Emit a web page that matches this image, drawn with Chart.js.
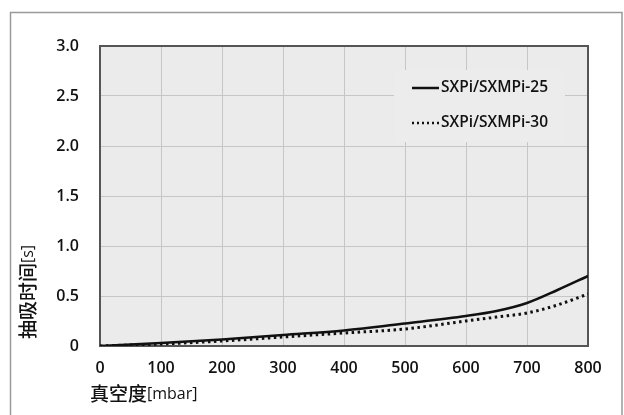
<!DOCTYPE html>
<html>
<head>
<meta charset="utf-8">
<script src="https://cdn.jsdelivr.net/npm/chart.js@4"></script>
<style>
  html, body { margin: 0; padding: 0; background: #fff; }
  #wrap { width: 624px; height: 415px; position: relative; }
</style>
</head>
<body>
<div id="wrap"><canvas id="chart" width="624" height="415"></canvas></div>
<script>
// valeurs
const vide = [0, 100, 200, 300, 400, 500, 600, 650, 700, 750, 800];
const temps25 = [0, 0.03, 0.065, 0.11, 0.155, 0.225, 0.30, 0.35, 0.43, 0.56, 0.70];
const temps30 = [0, 0.02, 0.05, 0.09, 0.13, 0.17, 0.25, 0.29, 0.33, 0.41, 0.52];
const nomsSeries = ['SXPi/SXMPi-25', 'SXPi/SXMPi-30'];
const titreX = ['真空度', '[mbar]'];
const titreY = ['抽吸时间', '[s]'];

const narrow = '"Open Sans", sans-serif';
const cjk = '"Noto Sans CJK SC", sans-serif';

// fond, cadre, titres et légende
const decor = {
  id: 'decor',
  beforeDraw(chart) {
    const { ctx, chartArea: a } = chart;
    ctx.save();
    ctx.fillStyle = '#fff';
    ctx.fillRect(0, 0, chart.width, chart.height);
    ctx.strokeStyle = '#9a9a9a';
    ctx.lineWidth = 1.5;
    ctx.beginPath();
    ctx.moveTo(10.5, 420);
    ctx.lineTo(10.5, 12.5);
    ctx.lineTo(622, 12.5);
    ctx.lineTo(622, 420);
    ctx.stroke();
    ctx.fillStyle = '#ebebeb';
    ctx.fillRect(a.left, a.top, a.right - a.left, a.bottom - a.top);
    ctx.restore();
  },
  beforeDatasetsDraw(chart) {
    const { ctx, chartArea: a } = chart;
    ctx.save();
    // boîte de légende (cache la grille)
    ctx.fillStyle = '#ececec';
    ctx.fillRect(394, 70, 171, 72);
    ctx.strokeStyle = '#555';
    ctx.lineWidth = 2;
    ctx.strokeRect(a.left, a.top, a.right - a.left, a.bottom - a.top);
    ctx.restore();
  },
  afterDraw(chart) {
    const { ctx } = chart;
    ctx.save();
    ctx.fillStyle = '#111';
    ctx.textBaseline = 'middle';
    // légende
    ctx.strokeStyle = '#111';
    ctx.lineWidth = 2.5;
    ctx.beginPath();
    ctx.moveTo(412, 88); ctx.lineTo(439, 88);
    ctx.stroke();
    ctx.lineWidth = 2.5;
    ctx.setLineDash([2, 3]);
    ctx.beginPath();
    ctx.moveTo(412, 123); ctx.lineTo(440, 123);
    ctx.stroke();
    ctx.setLineDash([]);
    ctx.font = '600 15.5px ' + narrow;
    ctx.textAlign = 'left';
    ctx.fillText(nomsSeries[0], 441, 88);
    ctx.fillText(nomsSeries[1], 441, 123);
    // titre axe x
    ctx.font = '500 19px ' + cjk;
    ctx.fillText(titreX[0], 90, 394);
    let w = ctx.measureText(titreX[0]).width;
    ctx.font = '16px ' + narrow;
    ctx.fillText(titreX[1], 90 + w, 394);
    // titre axe y
    ctx.translate(28, 339);
    ctx.rotate(-Math.PI / 2);
    ctx.font = '500 19px ' + cjk;
    ctx.fillText(titreY[0], 0, 0);
    w = ctx.measureText(titreY[0]).width;
    ctx.font = '16px ' + narrow;
    ctx.fillText(titreY[1], w, 0);
    ctx.restore();
  }
};

const ctx = document.getElementById('chart').getContext('2d');
new Chart(ctx, {
  type: 'line',
  data: {
    labels: vide,
    datasets: [
      {
        label: nomsSeries[0],
        data: vide.map((x, i) => ({ x: x, y: temps25[i] })),
        borderColor: '#111',
        borderWidth: 2.5,
        pointRadius: 0,
        cubicInterpolationMode: 'monotone'
      },
      {
        label: nomsSeries[1],
        data: vide.map((x, i) => ({ x: x, y: temps30[i] })),
        borderColor: '#111',
        borderWidth: 3,
        borderDash: [2.5, 3.5],
        pointRadius: 0,
        cubicInterpolationMode: 'monotone'
      }
    ]
  },
  options: {
    responsive: false,
    animation: false,
    layout: { padding: { left: 0, top: 46, right: 36, bottom: 0 } },
    plugins: { legend: { display: false }, tooltip: { enabled: false } },
    scales: {
      x: {
        type: 'linear',
        min: 0, max: 800,
        afterFit: s => { s.height = 69; },
        ticks: { stepSize: 100, padding: 13, color: '#111', font: { family: narrow, size: 16, weight: '600' } },
        grid: { color: '#c6c6c6', lineWidth: 1, drawTicks: false },
        border: { display: false }
      },
      y: {
        min: 0, max: 3,
        afterFit: s => { s.width = 100; },
        ticks: {
          stepSize: 0.5, padding: 21, color: '#111',
          font: { family: narrow, size: 16, weight: '600' },
          callback: v => v === 0 ? '0' : v.toFixed(1)
        },
        grid: { color: '#c6c6c6', lineWidth: 1, drawTicks: false },
        border: { display: false }
      }
    }
  },
  plugins: [decor]
});
</script>
</body>
</html>
